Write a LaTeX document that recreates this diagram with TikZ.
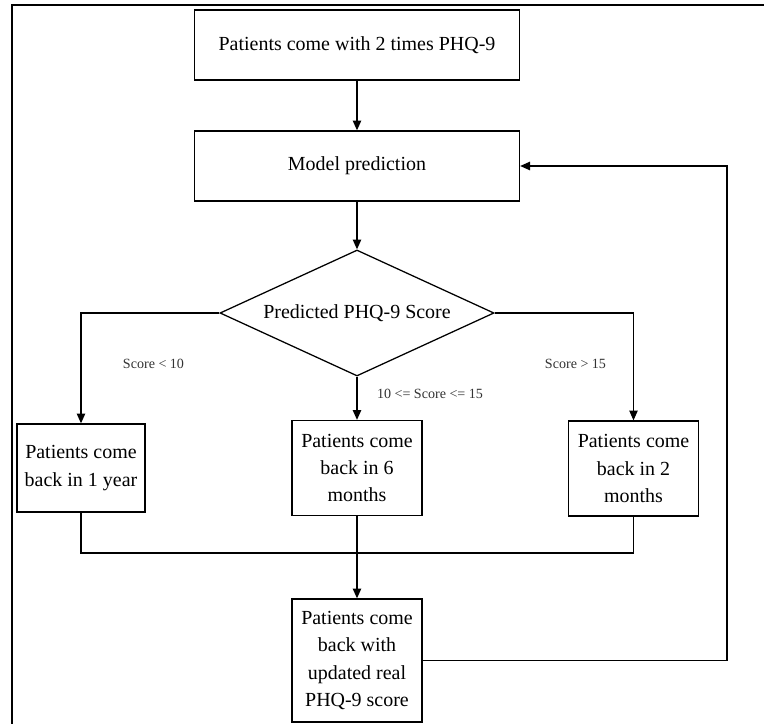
\documentclass[tikz,border=0pt]{standalone}
\usepackage{fontspec}
\setmainfont{Liberation Serif}
\usetikzlibrary{arrows.meta,shapes.geometric}

\begin{document}
\begin{tikzpicture}[x=0.025cm, y=-0.025cm, line width=0.9pt,
    flow/.style={-{Triangle[length=7pt,width=6pt]}},
    box/.style={draw, rectangle, align=center, inner sep=2pt,
      font=\fontsize{14.2}{19.5}\selectfont},
    cond/.style={font=\fontsize{10}{12}\selectfont, text=black!80, inner sep=1pt}]
    \useasboundingbox (0,0) rectangle (764,724);
    \draw (764,5) -| (12,724);

    \node[box, minimum width=8.125cm, minimum height=1.75cm] (patients) at (357,45) {Patients come with 2 times PHQ-9};
    \node[box, minimum width=8.125cm, minimum height=1.75cm] (prediction) at (357,166) {Model prediction};
    \node[box, diamond, shape aspect=2.17, minimum width=6.85cm, minimum height=3.15cm, inner sep=0pt] (score) at (357,313) {Predicted PHQ-9 Score};
    \node[box, minimum width=3.2cm, minimum height=2.2cm] (year) at (81,468) {Patients come\\back in 1 year};
    \node[box, minimum width=3.25cm, minimum height=2.375cm] (sixmonths) at (357,468) {Patients come\\back in 6\\months};
    \node[box, minimum width=3.25cm, minimum height=2.375cm] (twomonths) at (633.5,468.5) {Patients come\\back in 2\\months};
    \node[box, minimum width=3.25cm, minimum height=3.075cm] (updated) at (357,660.5) {Patients come\\back with\\updated real\\PHQ-9 score};

    \node[cond] (low) at (153.5,364) {Score < 10};
    \node[cond] (high) at (575.5,364) {Score > 15};
    \node[cond, anchor=west] (middle) at (375,394) {10 <= Score <= 15};

    \coordinate (merge) at (357,553);
    \coordinate (loop) at (727,166);

    \path[flow]
      (patients) edge (prediction)
      (prediction) edge (score)
      (score) edge (sixmonths)
      (sixmonths) edge (updated);
    \draw[flow] (score.west) -| (year.north);
    \draw[flow] (score.east) -| (twomonths.north);
    \draw (year.south) |- (merge) -| (twomonths.south);
    \draw[flow] (updated.east) -| (loop) -- (prediction.east);
\end{tikzpicture}
\end{document}
